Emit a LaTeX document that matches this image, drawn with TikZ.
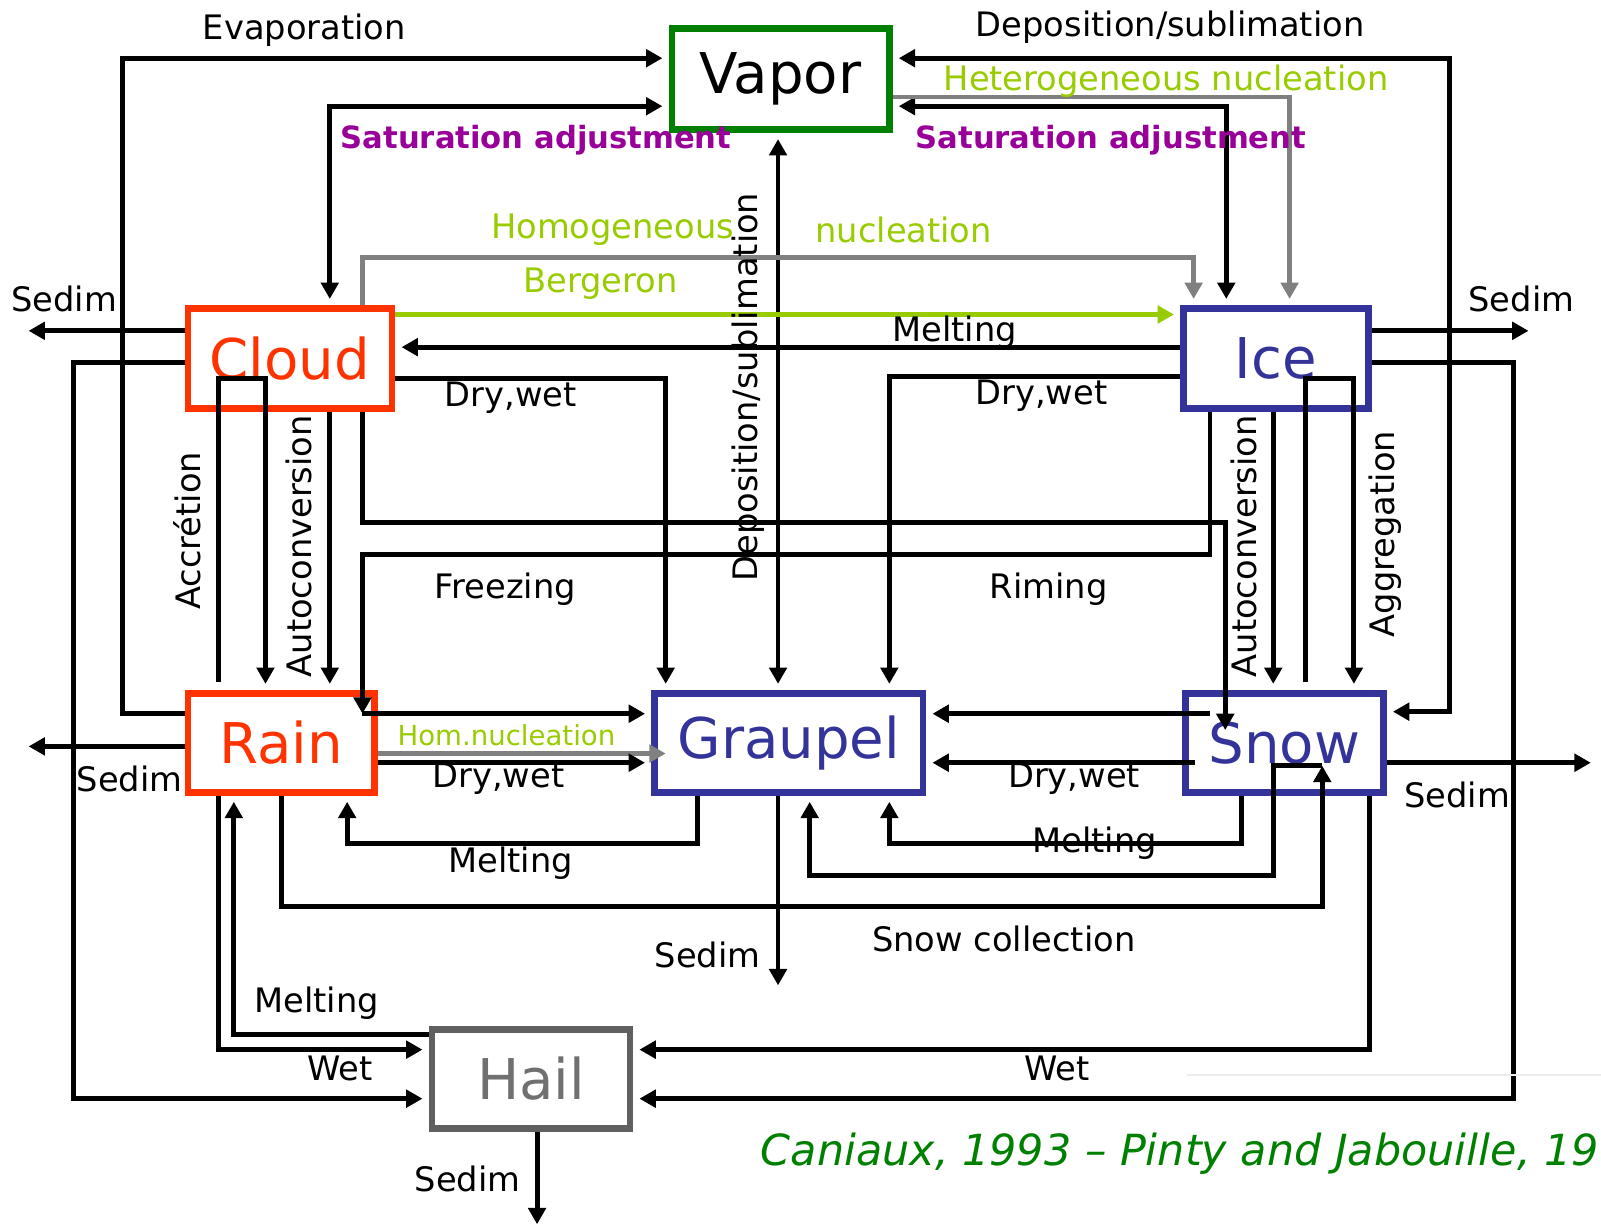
\documentclass[tikz,border=0pt]{standalone}
\usepackage{fontspec}
\setmainfont{DejaVu Sans}
\usetikzlibrary{arrows.meta}
\definecolor{cloudred}{HTML}{FF3300}
\definecolor{iceblue}{HTML}{333399}
\definecolor{vapgreen}{HTML}{008000}
\definecolor{hailgrey}{HTML}{606060}
\definecolor{satpurple}{HTML}{990099}
\definecolor{nuclgreen}{HTML}{99CC00}
\definecolor{nuclgrey}{HTML}{808080}

\begin{document}
\begin{tikzpicture}[x=1pt,y=-1pt,>={Triangle[length=16pt,width=17pt]},
	box/.style={draw, line width=6.5pt, inner sep=0pt, font=\fontsize{55}{60}\selectfont},
	flow/.style={line width=4.8pt, ->, shorten >=6pt},
	both/.style={line width=4.8pt, <->, shorten >=6pt, shorten <=6pt},
	sed/.style={line width=4.8pt, ->},
	gflow/.style={flow, draw=nuclgrey},
	lab/.style={font=\fontsize{33}{38}\selectfont, inner sep=0pt},
	sat/.style={font=\bfseries\fontsize{30}{36}\selectfont, text=satpurple, inner sep=0pt},
	nuc/.style={lab, text=nuclgreen}]
	\useasboundingbox (0,0) rectangle (1568,1202);

	% species
	\node[box, draw=vapgreen, minimum width=213pt, minimum height=99pt] (vapor) at (764.5,77.5) {Vapor};
	\node[box, draw=cloudred, text=cloudred, minimum width=200pt, minimum height=98pt] (cloud) at (284,351) {Cloud};
	\node[box, draw=iceblue, text=iceblue, minimum width=181pt, minimum height=98pt] (ice) at (1249.5,351) {Ice};
	\node[box, draw=cloudred, text=cloudred, minimum width=183pt, minimum height=97pt] (rain) at (275.5,727.5) {Rain};
	\node[box, draw=iceblue, text=iceblue, minimum width=263pt, minimum height=97pt] (graupel) at (772.5,727.5) {Graupel};
	\node[box, draw=iceblue, text=iceblue, minimum width=194pt, minimum height=97pt] (snow) at (1258,727.5) {Snow};
	\node[box, draw=hailgrey, text=hailgrey!90, minimum width=194pt, minimum height=97pt] (hail) at (520,1056.5) {Hail};

	% free ends
	\coordinate (sedC) at (28,324);
	\coordinate (sedI) at (1497,324);
	\coordinate (sedR) at (28,731);
	\coordinate (sedS) at (1558,747);
	\coordinate (sedG) at (762,965);
	\coordinate (sedH) at (526,1199);
	\coordinate (rainin) at (355,699);
	\coordinate (snowin) at (1200,715);
	\coordinate (graupin) at (652,738);
	\coordinate (snowA) at (1185,699);
	\coordinate (snowB) at (1170,747);
	\coordinate (snowC) at (1295,750);

	% vapor exchanges
	\draw[flow] (rain.west |- 0,699) -- (120,699) |- (vapor.west |- 0,57);
	\draw[both] (vapor.west |- 0,104) -| (cloud.north -| 323,0);
	\draw[both] (vapor.east |- 0,57) -| (1420,697) -- (snow.east |- 0,697);
	\draw[both] (vapor.east |- 0,104) -| (ice.north -| 1201,0);
	\draw[gflow] (vapor.east |- 0,95) -| (ice.north -| 1263,0);
	\draw[both] (vapor.south -| 762,0) -- (graupel.north -| 762,0);

	% cloud and ice
	\draw[gflow] (cloud.north -| 355,0) |- (1169,252) -- (ice.north -| 1169,0);
	\draw[flow, draw=nuclgreen] (cloud.east |- 0,308) -- (ice.west |- 0,308);
	\draw[flow] (ice.west |- 0,340) -- (cloud.east |- 0,340);
	\draw[flow] (cloud.east |- 0,371) -| (graupel.north -| 652,0);
	\draw[flow] (ice.west |- 0,369) -| (graupel.north -| 871,0);
	\draw[sed] (cloud.west |- 0,324) -- (sedC);
	\draw[flow] (cloud.west |- 0,355) -| (72,1076) -- (hail.west |- 0,1076);
	\draw[sed] (ice.east |- 0,324) -- (sedI);
	\draw[flow] (ice.east |- 0,355) -| (1482,1076) -- (hail.east |- 0,1076);

	% cloud to rain, ice to snow
	\draw[flow, shorten <=8pt] (rain.north -| 214,0) -- (214,371) -| (rain.north -| 260,0);
	\draw[flow] (cloud.south -| 323,0) -- (rain.north -| 323,0);
	\draw[sed] (cloud.south -| 355,0) |- (1200,512) -- (snowin);
	\draw[sed] (ice.south -| 1185,0) |- (355,543) -- (rainin);
	\draw[flow] (rainin) -- (graupel.west |- rainin);
	\draw[flow] (ice.south -| 1247,0) -- (snow.north -| 1247,0);
	\draw[flow, shorten <=8pt] (snow.north -| 1279,0) -- (1279,371) -| (snow.north -| 1326,0);

	% rain, graupel, snow
	\draw[sed] (rain.west |- 0,731) -- (sedR);
	\draw[sed, draw=nuclgrey] (rain.east |- 0,738) -- (graupin);
	\draw[flow] (rain.east |- 0,747) -- (graupel.west |- 0,747);
	\draw[flow] (snowA) -- (graupel.east |- snowA);
	\draw[flow] (snowB) -- (graupel.east |- snowB);
	\draw[flow] (snow.south -| 1216,0) |- (871,826) -- (graupel.south -| 871,0);
	\draw[sed] (rain.south -| 276,0) |- (1295,888) -- (snowC);
	\draw[flow] (snowC) -| (1247,857) -| (graupel.south -| 793,0);
	\draw[flow] (graupel.south -| 683,0) |- (340,826) -- (rain.south -| 340,0);
	\draw[sed] (graupel.south -| 762,0) -- (sedG);
	\draw[sed] (snow.east |- 0,747) -- (sedS);

	% hail
	\draw[flow] (rain.south -| 214,0) |- (hail.west |- 0,1028);
	\draw[flow] (hail.west |- 0,1013) -| (rain.south -| 229,0);
	\draw[flow] (snow.south -| 1341,0) |- (hail.east |- 0,1028);
	\draw[sed] (hail.south -| 526,0) -- (sedH);

	% process names
	\node[lab] (tevap) at (298,30) {Evaporation};
	\node[lab] (tdep) at (1146,27) {Deposition/sublimation};
	\node[nuc] (thet) at (1142,80) {Heterogeneous nucleation};
	\node[sat] (tsat1) at (525,137) {Saturation adjustment};
	\node[sat] (tsat2) at (1088,137) {Saturation adjustment};
	\node[nuc] (thom1) at (600,225) {Homogeneous};
	\node[nuc] (thom2) at (885,225) {nucleation};
	\node[nuc] (tberg) at (588,278) {Bergeron};
	\node[lab] (tmelt1) at (935,325) {Melting};
	\node[lab] (tsed1) at (63,293) {Sedim};
	\node[lab] (tsed2) at (1490,293) {Sedim};
	\node[lab] (tdry1) at (500,390) {Dry,wet};
	\node[lab] (tdry2) at (1020,388) {Dry,wet};
	\node[lab, rotate=90] (tdep2) at (733,379) {Deposition/sublimation};
	\node[lab, rotate=90] (tacc) at (183,520) {Accrétion};
	\node[lab, rotate=90] (tauto1) at (293,535) {Autoconversion};
	\node[lab, rotate=90] (tauto2) at (1218,535) {Autoconversion};
	\node[lab, rotate=90] (tagg) at (1357,523) {Aggregation};
	\node[lab] (tfrz) at (495,577) {Freezing};
	\node[lab] (trim) at (1027,577) {Riming};
	\node[nuc, font=\fontsize{27}{32}\selectfont] (thn) at (496,720) {Hom.nucleation};
	\node[lab] (tdry3) at (488,763) {Dry,wet};
	\node[lab] (tdry4) at (1052,763) {Dry,wet};
	\node[lab] (tsed3) at (127,763) {Sedim};
	\node[lab] (tsed4) at (1427,779) {Sedim};
	\node[lab] (tmelt2) at (500,845) {Melting};
	\node[lab] (tmelt3) at (1072,826) {Melting};
	\node[lab] (tsed5) at (693,935) {Sedim};
	\node[lab] (tcoll) at (983,920) {Snow collection};
	\node[lab] (tmelt4) at (310,983) {Melting};
	\node[lab] (twet1) at (333,1046) {Wet};
	\node[lab] (twet2) at (1035,1046) {Wet};
	\node[lab] (tsed6) at (458,1155) {Sedim};

	\draw[gray!15, line width=2pt] (1163,1053) -- (1568,1053);
	\node[anchor=west, inner sep=0pt, text=vapgreen, font=\itshape\fontsize{42}{48}\selectfont] (tref) at (745,1130) {Caniaux, 1993 – Pinty and Jabouille, 19};
\end{tikzpicture}
\end{document}
